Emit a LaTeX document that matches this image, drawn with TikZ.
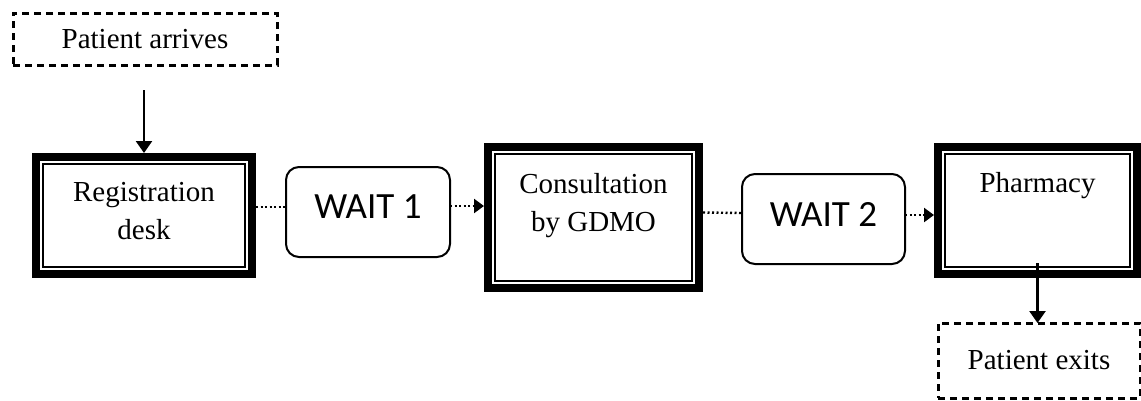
\documentclass[tikz,border=0pt]{standalone}
\usepackage{fontspec}
\setmainfont{Liberation Serif}
\newfontfamily\calibfont{Carlito}
\usetikzlibrary{arrows.meta}
\tikzset{
  every node/.style={inner sep=0pt, outer sep=0pt},
  txt/.style={font=\fontsize{29}{38}\selectfont, align=center},
  waitbox/.style={draw, line width=2pt, rounded corners=13pt,
    font=\calibfont\fontsize{37}{40}\selectfont, text depth=10pt},
  endbox/.style={draw, line width=3pt, dash pattern=on 7pt off 5pt,
    font=\fontsize{29}{34}\selectfont},
  dotline/.style={line width=2.4pt, dash pattern=on 2pt off 2.5pt},
  dotarrow/.style={dotline, -{Triangle[length=10pt,width=14pt]}},
  solidarrow/.style={line width=2.5pt, -{Triangle[length=12pt,width=16pt]}},
  thickframe/.style={line width=8pt},
  thinframe/.style={line width=2.2pt},
}
\newcommand\drawtriframe[1]{%
  \draw[thickframe] ([xshift=4pt,yshift=-4pt]#1.north west) rectangle ([xshift=-4pt,yshift=4pt]#1.south east);
  \draw[thinframe] ([xshift=11pt,yshift=-11pt]#1.north west) rectangle ([xshift=-11pt,yshift=11pt]#1.south east);}
\begin{document}
\begin{tikzpicture}[x=1pt,y=-1pt]
\useasboundingbox (0,0) rectangle (1141,400);

% start / end
\node[endbox, minimum width=264pt, minimum height=52pt] (arr) at (145,39) {Patient arrives};
\node[endbox, minimum width=202pt, minimum height=75pt] (ex) at (1039,360.5) {Patient exits};

% process boxes
\node[minimum width=224pt, minimum height=125pt,
  label={[txt, yshift=4pt]center:Registration\\desk}] (reg) at (144,215.5) {};
\node[minimum width=219pt, minimum height=149pt,
  label={[txt, yshift=12pt]center:Consultation\\by GDMO}] (con) at (593.5,217.5) {};
\node[minimum width=207pt, minimum height=135pt,
  label={[txt, yshift=24.5pt]center:Pharmacy}] (ph) at (1037.5,210.5) {};
\drawtriframe{reg}
\drawtriframe{con}
\drawtriframe{ph}

% waits
\node[waitbox, minimum width=164pt, minimum height=90pt] (w1) at (368,212) {WAIT 1};
\node[waitbox, minimum width=163pt, minimum height=90pt] (w2) at (823.5,219) {WAIT 2};

% connectors
\coordinate (a0) at (144,90);
\draw[solidarrow] (a0) -- (reg.north);
\draw[dotline] ([yshift=8.5pt]reg.east) -- ([yshift=5pt]w1.west);
\draw[dotarrow] ([yshift=6pt]w1.east) -- ([yshift=11.5pt]con.west);
\draw[dotline] ([yshift=5pt]con.east) -- ([yshift=6pt]w2.west);
\draw[dotarrow] ([yshift=4pt]w2.east) -- ([yshift=-4.5pt]ph.west);
\coordinate (p0) at ([yshift=15pt]ph.south);
\draw[solidarrow] (p0) -- (p0 |- ex.north);
\end{tikzpicture}
\end{document}
